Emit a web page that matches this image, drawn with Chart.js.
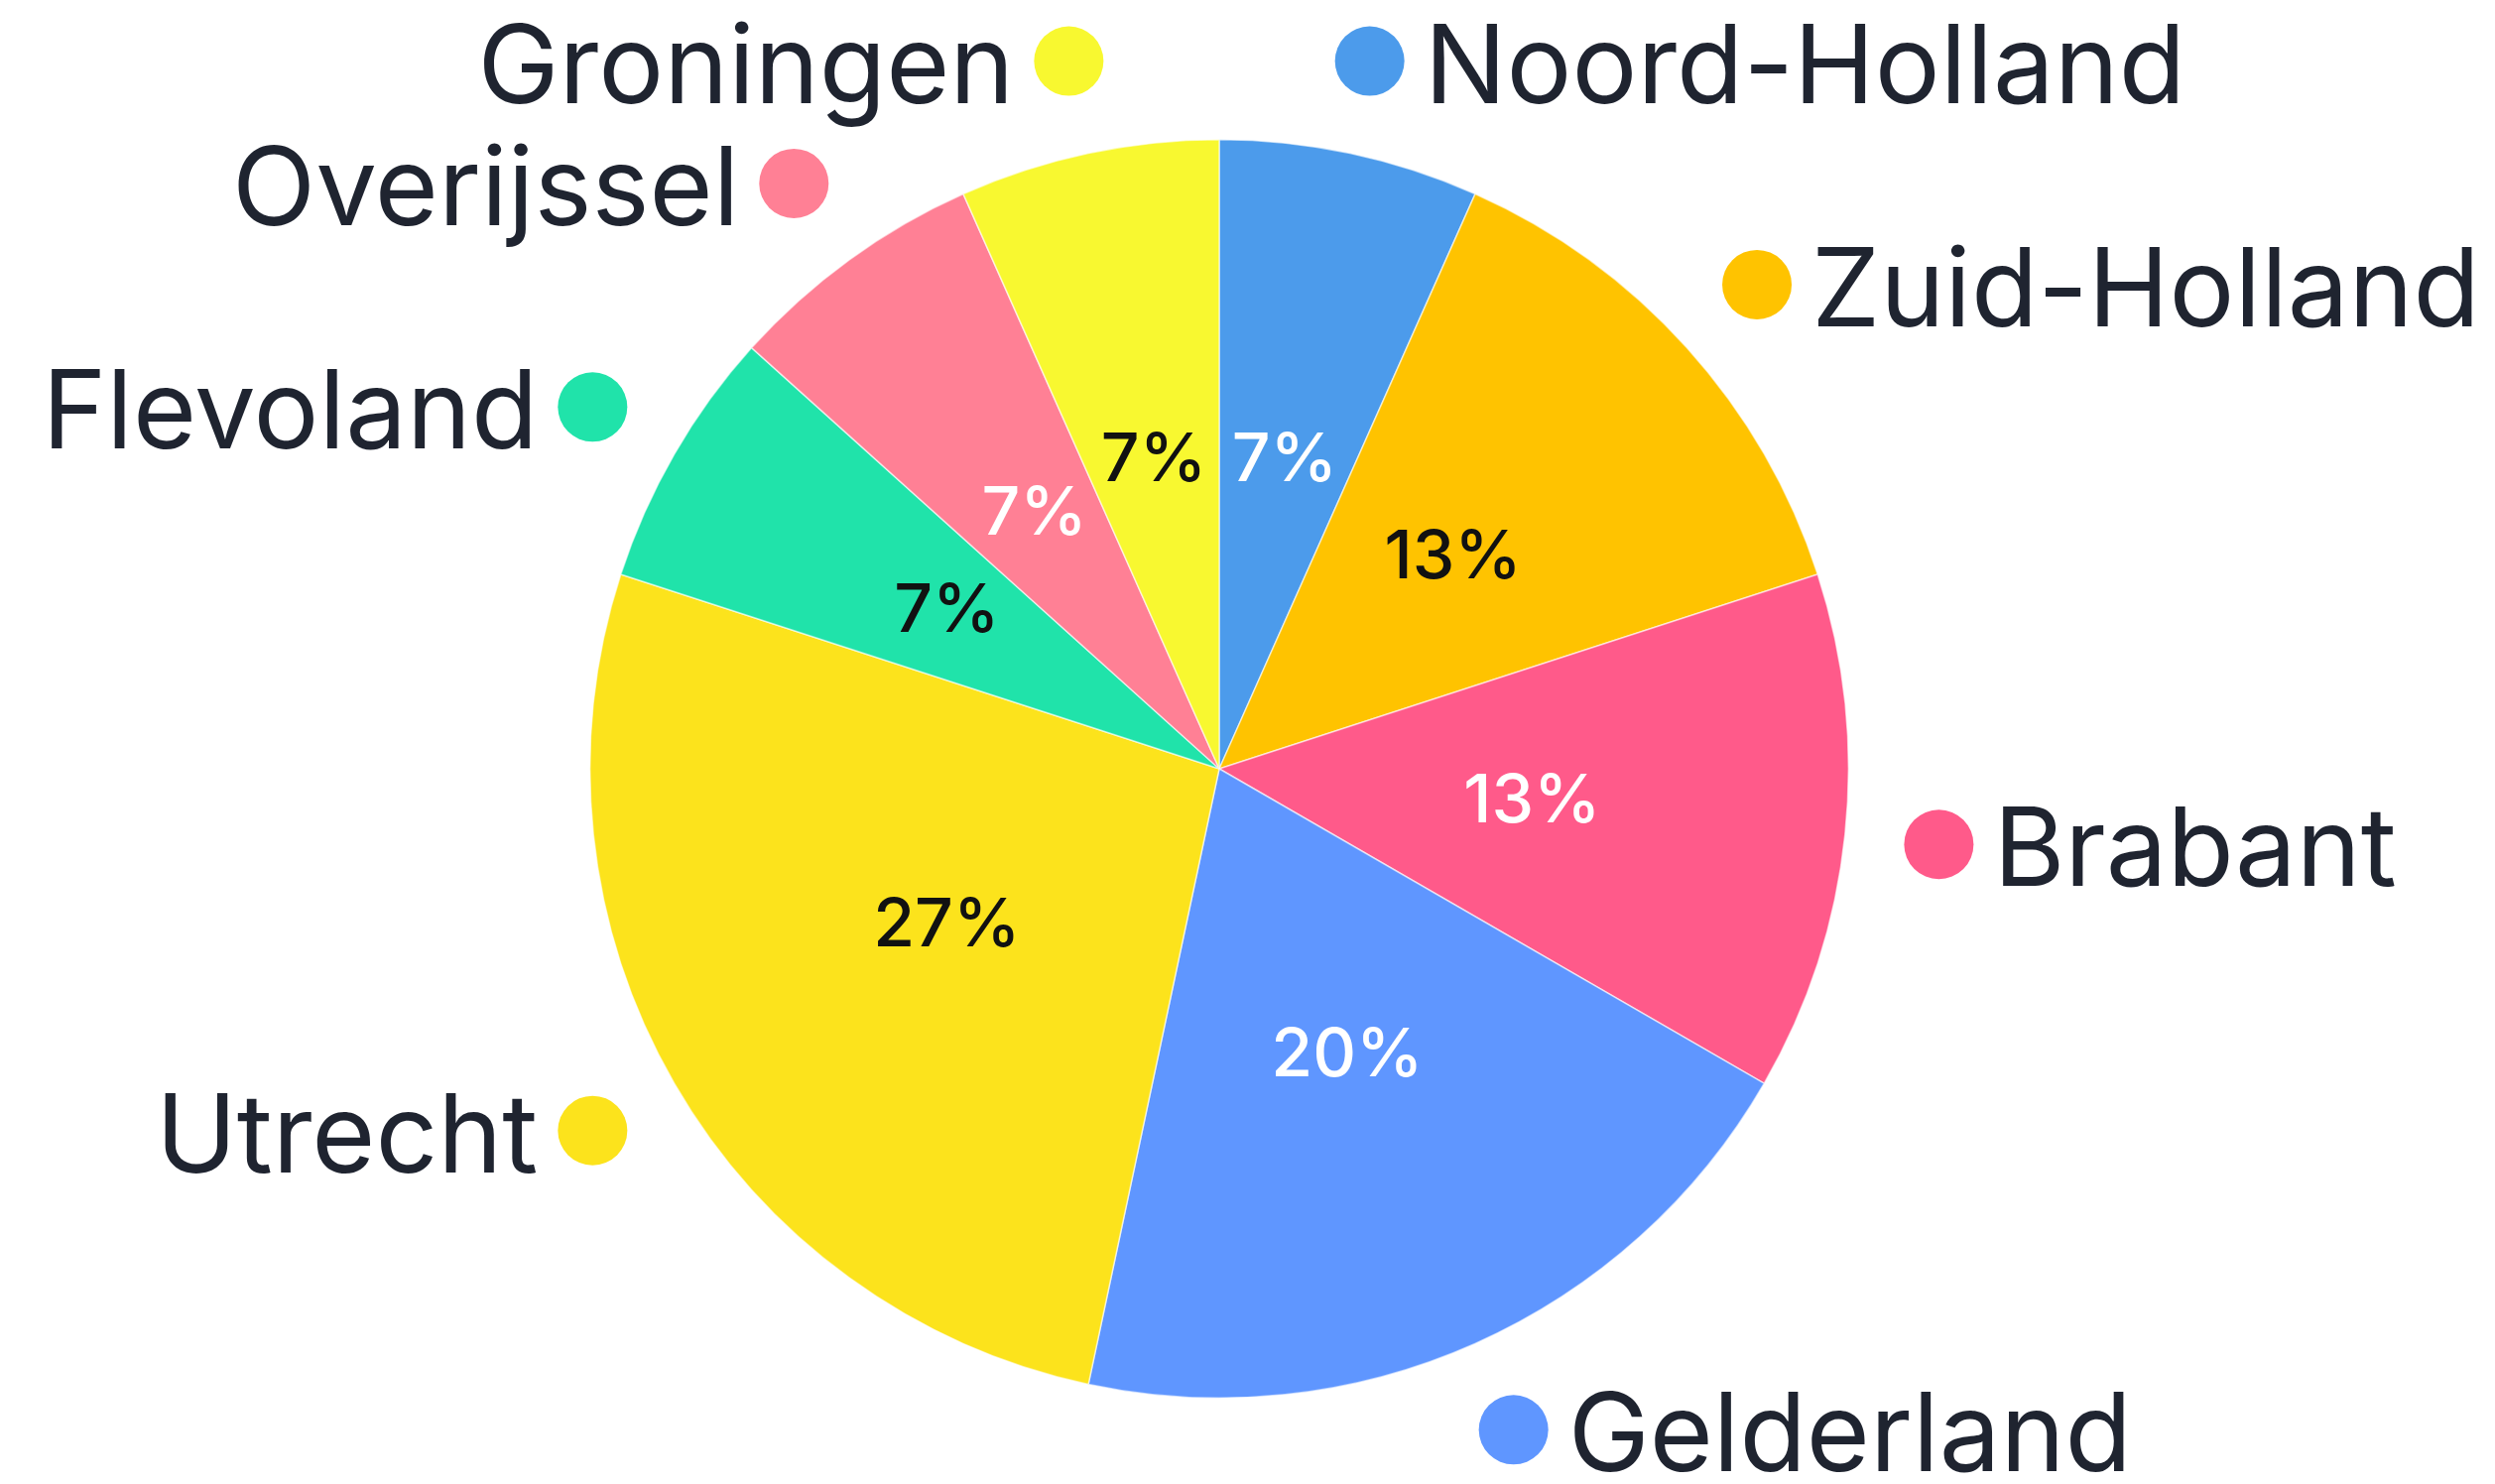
<!DOCTYPE html>
<html>
<head>
<meta charset="utf-8">
<script src="https://cdn.jsdelivr.net/npm/chart.js@4.4.1/dist/chart.umd.min.js"></script>
<style>
  html, body { margin: 0; padding: 0; background: #fff; }
  #wrap { width: 2515px; height: 1496px; }
</style>
</head>
<body>
<div id="wrap"><canvas id="pieChart" width="2515" height="1496"></canvas></div>
<script>
const provinces = ['Noord-Holland', 'Zuid-Holland', 'Brabant', 'Gelderland', 'Utrecht', 'Flevoland', 'Overijssel', 'Groningen'];
const counts = [1, 2, 2, 3, 4, 1, 1, 1];
const sliceColors = ['#4c9beb', '#ffc300', '#ff5a8a', '#5f96ff', '#fce31c', '#20e3aa', '#ff8095', '#f8f830'];
const pctColors = ['#ffffff', '#111111', '#ffffff', '#ffffff', '#111111', '#111111', '#ffffff', '#111111'];

const total = counts.reduce((a, b) => a + b, 0);
const FONT = 'Inter, "Noto Sans", sans-serif';

// labels outside the pie with a coloured dot, plus percentages inside
const pieLabels = {
  id: 'pieLabels',
  afterDatasetsDraw(chart) {
    const ctx = chart.ctx;
    const arcs = chart.getDatasetMeta(0).data;
    ctx.save();
    arcs.forEach((arc, i) => {
      const {x, y, startAngle, endAngle, outerRadius} = arc.getProps(['x', 'y', 'startAngle', 'endAngle', 'outerRadius'], true);
      const mid = (startAngle + endAngle) / 2;
      const cos = Math.cos(mid), sin = Math.sin(mid);

      // percentage
      const pr = outerRadius * 0.5;
      ctx.font = '500 68px ' + FONT;
      ctx.fillStyle = pctColors[i];
      ctx.textAlign = 'center';
      ctx.textBaseline = 'middle';
      ctx.fillText(Math.round(counts[i] / total * 100) + '%', x + cos * pr, y + sin * pr);

      // dot + name
      const dr = outerRadius * 1.15;
      const dx = x + cos * dr, dy = y + sin * dr;
      ctx.beginPath();
      ctx.arc(dx, dy, 35, 0, Math.PI * 2);
      ctx.fillStyle = sliceColors[i];
      ctx.fill();
      ctx.font = '400 110px ' + FONT;
      ctx.fillStyle = '#1f2430';
      const right = cos >= 0;
      ctx.textAlign = right ? 'left' : 'right';
      ctx.fillText(provinces[i], right ? dx + 55 : dx - 55, dy + 9);
    });
    ctx.restore();
  }
};

new Chart(document.getElementById('pieChart').getContext('2d'), {
  type: 'pie',
  data: {
    labels: provinces,
    datasets: [{
      data: counts,
      backgroundColor: sliceColors,
      borderColor: 'rgba(255,255,255,0.6)',
      borderWidth: 1.5
    }]
  },
  options: {
    responsive: false,
    animation: false,
    layout: {
      padding: {top: 140, bottom: 86, left: 594, right: 651}
    },
    plugins: {
      legend: {display: false},
      tooltip: {enabled: false}
    }
  },
  plugins: [pieLabels]
});
</script>
</body>
</html>
